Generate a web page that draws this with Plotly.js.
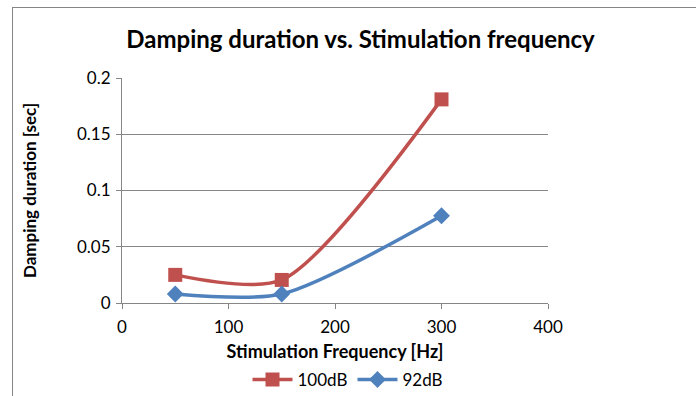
<!DOCTYPE html>
<html>
<head>
<meta charset="utf-8">
<script src="https://cdn.plot.ly/plotly-3.0.1.min.js"></script>
<style>
html,body{margin:0;padding:0;background:#fff;}
#wrap{position:relative;width:696px;height:396px;overflow:hidden;}
#frame{position:absolute;left:12px;top:7px;width:720px;height:420px;border-top:1px solid #868686;border-left:1px solid #868686;pointer-events:none;z-index:5;}
#chart{position:absolute;left:0;top:0;width:696px;height:396px;}
</style>
</head>
<body>
<div id="wrap"><div id="chart"></div><div id="frame"></div></div>
<script>
const freq = [50, 150, 300];
const dur100 = [0.025, 0.0205, 0.181];
const dur92 = [0.008, 0.008, 0.0775];
const seriesNames = ['100dB', '92dB'];
const xTicks = [0, 100, 200, 300, 400];
const yTicks = [0, 0.05, 0.1, 0.15, 0.2];
const yTickText = ['0', '0.05', '0.1', '0.15', '0.2'];

const FONT = 'Lato, "Open Sans", sans-serif';
const traces = [
  {x: freq, y: dur100, name: seriesNames[0], type: 'scatter', mode: 'lines+markers',
   line: {color: '#C0504D', width: 3.5, shape: 'spline', smoothing: 0.75},
   marker: {symbol: 'square', size: 14, color: '#C0504D'}},
  {x: freq, y: dur92, name: seriesNames[1], type: 'scatter', mode: 'lines+markers',
   line: {color: '#4F81BD', width: 3.5, shape: 'spline', smoothing: 0.75},
   marker: {symbol: 'diamond', size: 13, color: '#4F81BD'}}
];
const layout = {
  width: 696, height: 396,
  margin: {l: 122, r: 148, t: 78, b: 93},
  paper_bgcolor: '#fff', plot_bgcolor: '#fff',
  font: {family: FONT, color: '#000', size: 17},
  title: {text: 'Damping duration vs. Stimulation frequency', font: {family: FONT, size: 24, color: '#000', weight: 'bold'},
    x: 0.518, xref: 'container', xanchor: 'center', y: 1 - 40/396, yref: 'container', yanchor: 'middle'},
  xaxis: {range: [0, 400], tickvals: xTicks, ticktext: xTicks.map(String), showgrid: false, zeroline: false,
    showline: true, linecolor: '#868686', linewidth: 1, ticks: 'outside', ticklen: 5, tickcolor: '#868686',
    tickfont: {family: FONT, size: 17, color: '#000'}, ticklabelstandoff: 4,
    title: {text: 'Stimulation Frequency [Hz]', font: {family: FONT, size: 18, color: '#000', weight: 'bold'}, standoff: 18}},
  yaxis: {range: [0, 0.2], tickvals: yTicks, ticktext: yTickText, showgrid: true, gridcolor: '#868686', gridwidth: 1,
    zeroline: false, showline: true, linecolor: '#868686', linewidth: 1, ticks: 'outside', ticklen: 5, tickcolor: '#868686',
    tickfont: {family: FONT, size: 17, color: '#000'}, ticklabelstandoff: 2,
    title: {text: 'Damping duration [sec]', font: {family: FONT, size: 17, color: '#000', weight: 'bold'}, standoff: 36}},
  showlegend: true,
  legend: {orientation: 'h', x: 0.5, xref: 'container', xanchor: 'center', y: 1 - 380/396, yref: 'container', yanchor: 'middle',
    font: {family: FONT, size: 17, color: '#000'}, itemwidth: 40, tracegroupgap: 0, bgcolor: 'rgba(0,0,0,0)'}
};
Plotly.newPlot('chart', traces, layout, {displayModeBar: false, staticPlot: true});
</script>
</body>
</html>
